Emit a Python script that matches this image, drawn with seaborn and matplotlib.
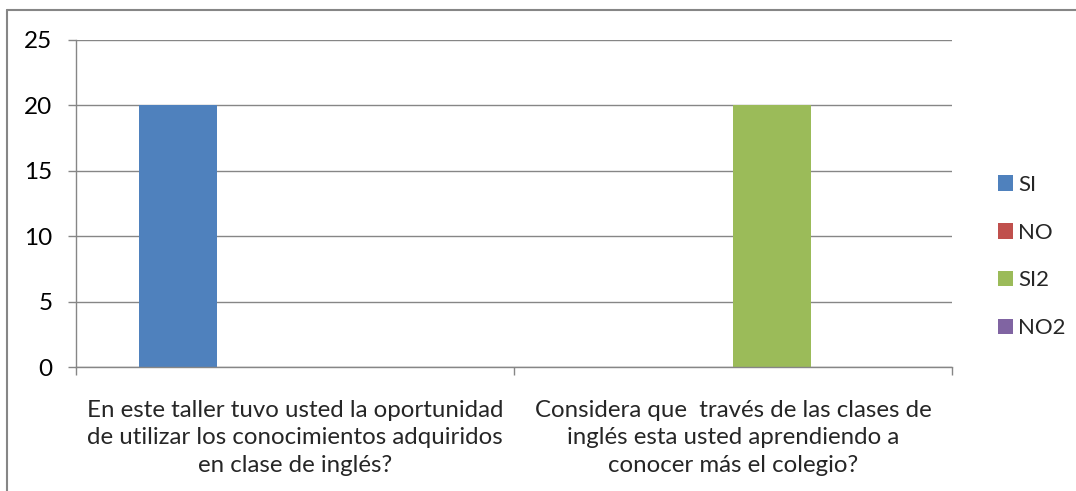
import matplotlib
matplotlib.use("Agg")
import matplotlib.pyplot as plt
import seaborn as sns
import pandas as pd
from matplotlib.patches import Patch
from matplotlib.lines import Line2D

categories = [
    "En este taller tuvo usted la oportunidad\nde utilizar los conocimientos adquiridos\nen clase de inglés?",
    "Considera que  través de las clases de\ninglés esta usted aprendiendo a\nconocer más el colegio?",
]
series_names = ["SI", "NO", "SI2", "NO2"]
si = [20, 0]
no = [0, 0]
si2 = [0, 20]
no2 = [0, 0]
colors = ["#4F81BD", "#C0504D", "#9BBB59", "#8064A2"]
yticks = [0, 5, 10, 15, 20, 25]

rows = []
for name, vals in zip(series_names, [si, no, si2, no2]):
    for cat, v in zip(categories, vals):
        rows.append({"cat": cat, "serie": name, "val": v})
df = pd.DataFrame(rows)

sns.set_theme(style="white")
plt.rcParams["font.family"] = ["Lato", "DejaVu Sans"]

fig = plt.figure(figsize=(10.76, 4.91), dpi=100)
ax = fig.add_axes([76/1076, 1-367/491, (952-76)/1076, (367-40)/491])

sns.barplot(data=df, x="cat", y="val", hue="serie", order=categories,
            hue_order=series_names, palette=colors, saturation=1, width=0.712, gap=0,
            linewidth=0, ax=ax, legend=False)

ax.set_ylim(0, 25)
ax.set_xlim(-0.5, 1.5)
ax.set_yticks(yticks)
ax.set_yticklabels([str(t) for t in yticks], fontsize=17.5, color="black")
ax.yaxis.grid(True, color="#868686", linewidth=1)
ax.set_axisbelow(True)
ax.set_xlabel("")
ax.set_ylabel("")
ax.tick_params(axis="y", length=6, width=1, color="#868686", direction="out", pad=11, left=True)
ax.tick_params(axis="x", which="major", length=0, pad=24, labelsize=17.3)
ax.set_xticks([-0.5, 0.5, 1.5], minor=True)
ax.tick_params(axis="x", which="minor", length=6, width=1, color="#868686", direction="out", bottom=True)
for lbl in ax.get_xticklabels():
    lbl.set_linespacing(1.36)
    lbl.set_ha("center")
for s in ["top", "right"]:
    ax.spines[s].set_visible(False)
for s in ["left", "bottom"]:
    ax.spines[s].set_color("#868686")
    ax.spines[s].set_linewidth(1)

handles = [Patch(facecolor=c, edgecolor="none") for c in colors]
fig.legend(handles, series_names, loc="upper left", bbox_to_anchor=(989/1076, 1-166/491),
           frameon=False, fontsize=16, handlelength=0.7, handleheight=0.7,
           handletextpad=0.2, labelspacing=1.25, borderaxespad=0)

fig.add_artist(Line2D([6.5/1076, 6.5/1076], [0, 1-10/491], color="#868686", linewidth=1.5, transform=fig.transFigure))
fig.add_artist(Line2D([6.5/1076, 1], [1-10/491, 1-10/491], color="#868686", linewidth=1.5, transform=fig.transFigure))

fig.savefig("out.png", dpi=100)
